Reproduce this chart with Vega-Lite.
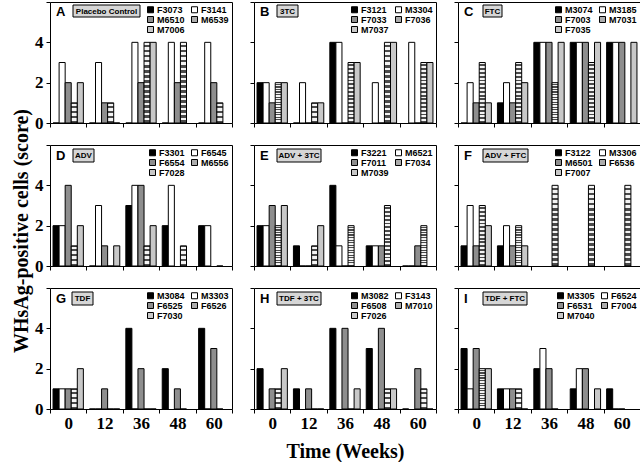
{
"$schema": "https://vega.github.io/schema/vega-lite/v6.json",
"background": "white",
"padding": {"left": 11, "top": 0, "right": 0, "bottom": 0},
"title": {"text": "WHsAg-positive cells (score)", "orient": "left", "anchor": "middle", "font": "Liberation Serif", "fontSize": 20, "fontWeight": "bold", "color": "#000", "offset": 2},
"resolve": {"scale": {"fill": "independent", "xOffset": "independent"}, "legend": {"fill": "independent"}},
"datasets": {
"bars": [
{"p":"A","w":"0","a":"F3073","v":0},{"p":"A","w":"0","a":"F3141","v":3},{"p":"A","w":"0","a":"M6510","v":2},{"p":"A","w":"0","a":"M6539","v":1},{"p":"A","w":"0","a":"M7006","v":2},
{"p":"A","w":"12","a":"F3073","v":0},{"p":"A","w":"12","a":"F3141","v":3},{"p":"A","w":"12","a":"M6510","v":1},{"p":"A","w":"12","a":"M6539","v":1},{"p":"A","w":"12","a":"M7006","v":0},
{"p":"A","w":"36","a":"F3073","v":0},{"p":"A","w":"36","a":"F3141","v":4},{"p":"A","w":"36","a":"M6510","v":2},{"p":"A","w":"36","a":"M6539","v":4},{"p":"A","w":"36","a":"M7006","v":4},
{"p":"A","w":"48","a":"F3073","v":0},{"p":"A","w":"48","a":"F3141","v":4},{"p":"A","w":"48","a":"M6510","v":2},{"p":"A","w":"48","a":"M6539","v":4},
{"p":"A","w":"60","a":"F3073","v":0},{"p":"A","w":"60","a":"F3141","v":4},{"p":"A","w":"60","a":"M6510","v":2},{"p":"A","w":"60","a":"M6539","v":1},
{"p":"B","w":"0","a":"F3121","v":2},{"p":"B","w":"0","a":"M3304","v":2},{"p":"B","w":"0","a":"F7033","v":1},{"p":"B","w":"0","a":"F7036","v":2},{"p":"B","w":"0","a":"M7037","v":2},
{"p":"B","w":"12","a":"F3121","v":0},{"p":"B","w":"12","a":"M3304","v":2},{"p":"B","w":"12","a":"F7033","v":0},{"p":"B","w":"12","a":"F7036","v":1},{"p":"B","w":"12","a":"M7037","v":1},
{"p":"B","w":"36","a":"F3121","v":4},{"p":"B","w":"36","a":"M3304","v":4},{"p":"B","w":"36","a":"F7033","v":0},{"p":"B","w":"36","a":"F7036","v":3},{"p":"B","w":"36","a":"M7037","v":3},
{"p":"B","w":"48","a":"M3304","v":2},{"p":"B","w":"48","a":"F7033","v":0},{"p":"B","w":"48","a":"F7036","v":4},{"p":"B","w":"48","a":"M7037","v":4},
{"p":"B","w":"60","a":"M3304","v":4},{"p":"B","w":"60","a":"F7033","v":0},{"p":"B","w":"60","a":"F7036","v":3},{"p":"B","w":"60","a":"M7037","v":3},
{"p":"C","w":"0","a":"M3074","v":0},{"p":"C","w":"0","a":"M3185","v":2},{"p":"C","w":"0","a":"F7003","v":1},{"p":"C","w":"0","a":"M7031","v":3},{"p":"C","w":"0","a":"F7035","v":1},
{"p":"C","w":"12","a":"M3074","v":1},{"p":"C","w":"12","a":"M3185","v":2},{"p":"C","w":"12","a":"F7003","v":1},{"p":"C","w":"12","a":"M7031","v":3},{"p":"C","w":"12","a":"F7035","v":2},
{"p":"C","w":"36","a":"M3074","v":4},{"p":"C","w":"36","a":"M3185","v":4},{"p":"C","w":"36","a":"F7003","v":4},{"p":"C","w":"36","a":"M7031","v":2},{"p":"C","w":"36","a":"F7035","v":4},
{"p":"C","w":"48","a":"M3074","v":4},{"p":"C","w":"48","a":"M3185","v":4},{"p":"C","w":"48","a":"F7003","v":4},{"p":"C","w":"48","a":"M7031","v":3},{"p":"C","w":"48","a":"F7035","v":4},
{"p":"C","w":"60","a":"M3074","v":4},{"p":"C","w":"60","a":"M3185","v":4},{"p":"C","w":"60","a":"F7003","v":4},{"p":"C","w":"60","a":"F7035","v":4},
{"p":"D","w":"0","a":"F3301","v":2},{"p":"D","w":"0","a":"F6545","v":2},{"p":"D","w":"0","a":"F6554","v":4},{"p":"D","w":"0","a":"M6556","v":1},{"p":"D","w":"0","a":"F7028","v":2},
{"p":"D","w":"12","a":"F3301","v":0},{"p":"D","w":"12","a":"F6545","v":3},{"p":"D","w":"12","a":"F6554","v":1},{"p":"D","w":"12","a":"M6556","v":0},{"p":"D","w":"12","a":"F7028","v":1},
{"p":"D","w":"36","a":"F3301","v":3},{"p":"D","w":"36","a":"F6545","v":4},{"p":"D","w":"36","a":"F6554","v":4},{"p":"D","w":"36","a":"M6556","v":1},{"p":"D","w":"36","a":"F7028","v":2},
{"p":"D","w":"48","a":"F3301","v":2},{"p":"D","w":"48","a":"F6545","v":4},{"p":"D","w":"48","a":"M6556","v":1},
{"p":"D","w":"60","a":"F3301","v":2},{"p":"D","w":"60","a":"F6545","v":2},{"p":"D","w":"60","a":"M6556","v":0},
{"p":"E","w":"0","a":"F3221","v":2},{"p":"E","w":"0","a":"M6521","v":2},{"p":"E","w":"0","a":"F7011","v":3},{"p":"E","w":"0","a":"F7034","v":2},{"p":"E","w":"0","a":"M7039","v":3},
{"p":"E","w":"12","a":"F3221","v":1},{"p":"E","w":"12","a":"M6521","v":0},{"p":"E","w":"12","a":"F7011","v":0},{"p":"E","w":"12","a":"F7034","v":1},{"p":"E","w":"12","a":"M7039","v":2},
{"p":"E","w":"36","a":"F3221","v":4},{"p":"E","w":"36","a":"M6521","v":1},{"p":"E","w":"36","a":"F7011","v":0},{"p":"E","w":"36","a":"F7034","v":2},
{"p":"E","w":"48","a":"F3221","v":1},{"p":"E","w":"48","a":"M6521","v":1},{"p":"E","w":"48","a":"F7011","v":1},{"p":"E","w":"48","a":"F7034","v":3},
{"p":"E","w":"60","a":"F3221","v":0},{"p":"E","w":"60","a":"M6521","v":0},{"p":"E","w":"60","a":"F7011","v":1},{"p":"E","w":"60","a":"F7034","v":2},
{"p":"F","w":"0","a":"F3122","v":1},{"p":"F","w":"0","a":"M3306","v":3},{"p":"F","w":"0","a":"M6501","v":1},{"p":"F","w":"0","a":"F6536","v":3},{"p":"F","w":"0","a":"F7007","v":2},
{"p":"F","w":"12","a":"F3122","v":1},{"p":"F","w":"12","a":"M3306","v":2},{"p":"F","w":"12","a":"M6501","v":1},{"p":"F","w":"12","a":"F6536","v":2},{"p":"F","w":"12","a":"F7007","v":1},
{"p":"F","w":"36","a":"F6536","v":4},{"p":"F","w":"48","a":"F6536","v":4},{"p":"F","w":"60","a":"F6536","v":4},
{"p":"G","w":"0","a":"M3084","v":1},{"p":"G","w":"0","a":"M3303","v":1},{"p":"G","w":"0","a":"F6525","v":1},{"p":"G","w":"0","a":"F6526","v":1},{"p":"G","w":"0","a":"F7030","v":2},
{"p":"G","w":"12","a":"M3084","v":0},{"p":"G","w":"12","a":"M3303","v":0},{"p":"G","w":"12","a":"F6525","v":1},{"p":"G","w":"12","a":"F6526","v":0},{"p":"G","w":"12","a":"F7030","v":0},
{"p":"G","w":"36","a":"M3084","v":4},{"p":"G","w":"36","a":"M3303","v":0},{"p":"G","w":"36","a":"F6525","v":2},{"p":"G","w":"36","a":"F6526","v":0},{"p":"G","w":"36","a":"F7030","v":0},
{"p":"G","w":"48","a":"M3084","v":2},{"p":"G","w":"48","a":"F6525","v":1},{"p":"G","w":"48","a":"F6526","v":0},
{"p":"G","w":"60","a":"M3084","v":4},{"p":"G","w":"60","a":"M3303","v":0},{"p":"G","w":"60","a":"F6525","v":3},{"p":"G","w":"60","a":"F6526","v":0},
{"p":"H","w":"0","a":"M3082","v":2},{"p":"H","w":"0","a":"F6508","v":1},{"p":"H","w":"0","a":"M7010","v":1},{"p":"H","w":"0","a":"F7026","v":2},
{"p":"H","w":"12","a":"M3082","v":1},{"p":"H","w":"12","a":"F6508","v":1},{"p":"H","w":"12","a":"M7010","v":0},{"p":"H","w":"12","a":"F7026","v":0},
{"p":"H","w":"36","a":"M3082","v":4},{"p":"H","w":"36","a":"F6508","v":4},{"p":"H","w":"36","a":"M7010","v":0},{"p":"H","w":"36","a":"F7026","v":1},
{"p":"H","w":"48","a":"M3082","v":3},{"p":"H","w":"48","a":"F6508","v":4},{"p":"H","w":"48","a":"M7010","v":1},{"p":"H","w":"48","a":"F7026","v":1},
{"p":"H","w":"60","a":"M3082","v":0},{"p":"H","w":"60","a":"F6508","v":2},{"p":"H","w":"60","a":"M7010","v":1},{"p":"H","w":"60","a":"F7026","v":0},
{"p":"I","w":"0","a":"M3305","v":3},{"p":"I","w":"0","a":"F6524","v":1},{"p":"I","w":"0","a":"F6531","v":3},{"p":"I","w":"0","a":"F7004","v":2},{"p":"I","w":"0","a":"M7040","v":2},
{"p":"I","w":"12","a":"M3305","v":1},{"p":"I","w":"12","a":"F6524","v":1},{"p":"I","w":"12","a":"F6531","v":1},{"p":"I","w":"12","a":"F7004","v":1},{"p":"I","w":"12","a":"M7040","v":0},
{"p":"I","w":"36","a":"M3305","v":2},{"p":"I","w":"36","a":"F6524","v":3},{"p":"I","w":"36","a":"F6531","v":2},{"p":"I","w":"36","a":"F7004","v":0},
{"p":"I","w":"48","a":"M3305","v":1},{"p":"I","w":"48","a":"F6524","v":2},{"p":"I","w":"48","a":"F6531","v":2},{"p":"I","w":"48","a":"M7040","v":1},
{"p":"I","w":"60","a":"M3305","v":1},{"p":"I","w":"60","a":"F6524","v":0},{"p":"I","w":"60","a":"F6531","v":0}
],
"one": [{}]
},
"config": {
"view": {"stroke": "#000", "strokeWidth": 1},
"range": {"category": ["#000000", "#ffffff", "#8e8e8e", "#acacac", "#c8c8c8"]},
"axis": {"domain": false, "grid": false, "ticks": true, "tickColor": "#000", "tickSize": 4, "labelFont": "Liberation Serif", "labelFontWeight": "bold", "labelFontSize": 17, "labelColor": "#000", "labelOverlap": false, "titleFont": "Liberation Serif", "titleFontWeight": "bold", "titleFontSize": 20, "titleColor": "#000"},
"axisX": {"tickBand": "extent", "labelAngle": 0, "labelPadding": 2, "title": null},
"axisY": {"values": [0,1,2,3,4,5,6], "labelExpr": "datum.value <= 4 ? datum.label : ''", "labelFontSize": {"condition": {"test": "datum.value > 4", "value": 1}, "value": 17}, "labelPadding": 3, "title": null},
"legend": {"orient": "top-right", "direction": "horizontal", "columns": 2, "symbolType": "square", "symbolSize": 36, "symbolStrokeColor": "#000", "symbolStrokeWidth": 1, "symbolOpacity": 1, "labelFont": "Liberation Sans", "labelFontSize": 9, "labelFontWeight": "bold", "labelColor": "#000", "labelOffset": 2, "rowPadding": -1, "columnPadding": 4, "offset": 3, "padding": 0, "title": null}
},
"spacing": 11,
"vconcat": [
{"spacing": 16, "resolve": {"scale": {"fill": "independent", "xOffset": "independent"}, "legend": {"fill": "independent"}}, "hconcat": [
 {"width": 182, "height": 121, "layer": [
  {"data": {"name": "bars"}, "transform": [{"filter": "datum.p==='A'"}], "mark": {"type": "bar", "stroke": "#000", "strokeWidth": 1},
   "encoding": {
    "x": {"field": "w", "type": "ordinal", "sort": ["0","12","36","48","60"], "scale": {"domain": ["0","12","36","48","60"], "paddingInner": 0, "paddingOuter": 0}, "axis": {"labels": false}},
    "xOffset": {"field": "a", "scale": {"domain": ["F3073","F3141","M6510","M6539","M7006"], "paddingInner": 0, "paddingOuter": 0.5}},
    "y": {"field": "v", "type": "quantitative", "scale": {"domain": [0,6], "nice": false}, "axis": {}},
    "fill": {"condition": {"test": "datum.a==='M6539'", "value": {"gradient": "linear", "x1": 0, "y1": 0, "x2": 0, "y2": 1, "stops": [{"offset":0,"color":"#f4f4f4"},{"offset":0.03125,"color":"#f4f4f4"},{"offset":0.03125,"color":"#4a4a4a"},{"offset":0.0625,"color":"#4a4a4a"},{"offset":0.0625,"color":"#f4f4f4"},{"offset":0.09375,"color":"#f4f4f4"},{"offset":0.09375,"color":"#4a4a4a"},{"offset":0.125,"color":"#4a4a4a"},{"offset":0.125,"color":"#f4f4f4"},{"offset":0.15625,"color":"#f4f4f4"},{"offset":0.15625,"color":"#4a4a4a"},{"offset":0.1875,"color":"#4a4a4a"},{"offset":0.1875,"color":"#f4f4f4"},{"offset":0.21875,"color":"#f4f4f4"},{"offset":0.21875,"color":"#4a4a4a"},{"offset":0.25,"color":"#4a4a4a"},{"offset":0.25,"color":"#f4f4f4"},{"offset":0.28125,"color":"#f4f4f4"},{"offset":0.28125,"color":"#4a4a4a"},{"offset":0.3125,"color":"#4a4a4a"},{"offset":0.3125,"color":"#f4f4f4"},{"offset":0.34375,"color":"#f4f4f4"},{"offset":0.34375,"color":"#4a4a4a"},{"offset":0.375,"color":"#4a4a4a"},{"offset":0.375,"color":"#f4f4f4"},{"offset":0.40625,"color":"#f4f4f4"},{"offset":0.40625,"color":"#4a4a4a"},{"offset":0.4375,"color":"#4a4a4a"},{"offset":0.4375,"color":"#f4f4f4"},{"offset":0.46875,"color":"#f4f4f4"},{"offset":0.46875,"color":"#4a4a4a"},{"offset":0.5,"color":"#4a4a4a"},{"offset":0.5,"color":"#f4f4f4"},{"offset":0.53125,"color":"#f4f4f4"},{"offset":0.53125,"color":"#4a4a4a"},{"offset":0.5625,"color":"#4a4a4a"},{"offset":0.5625,"color":"#f4f4f4"},{"offset":0.59375,"color":"#f4f4f4"},{"offset":0.59375,"color":"#4a4a4a"},{"offset":0.625,"color":"#4a4a4a"},{"offset":0.625,"color":"#f4f4f4"},{"offset":0.65625,"color":"#f4f4f4"},{"offset":0.65625,"color":"#4a4a4a"},{"offset":0.6875,"color":"#4a4a4a"},{"offset":0.6875,"color":"#f4f4f4"},{"offset":0.71875,"color":"#f4f4f4"},{"offset":0.71875,"color":"#4a4a4a"},{"offset":0.75,"color":"#4a4a4a"},{"offset":0.75,"color":"#f4f4f4"},{"offset":0.78125,"color":"#f4f4f4"},{"offset":0.78125,"color":"#4a4a4a"},{"offset":0.8125,"color":"#4a4a4a"},{"offset":0.8125,"color":"#f4f4f4"},{"offset":0.84375,"color":"#f4f4f4"},{"offset":0.84375,"color":"#4a4a4a"},{"offset":0.875,"color":"#4a4a4a"},{"offset":0.875,"color":"#f4f4f4"},{"offset":0.90625,"color":"#f4f4f4"},{"offset":0.90625,"color":"#4a4a4a"},{"offset":0.9375,"color":"#4a4a4a"},{"offset":0.9375,"color":"#f4f4f4"},{"offset":0.96875,"color":"#f4f4f4"},{"offset":0.96875,"color":"#4a4a4a"},{"offset":1,"color":"#4a4a4a"}]}},
      "field": "a", "type": "nominal", "scale": {"domain": ["F3073","F3141","M6510","M6539","M7006"]}, "legend": {"title": null}}}},
  {"data": {"name": "one"}, "mark": {"type": "rect", "fill": "#d6d6d6", "stroke": "#000", "strokeWidth": 1}, "encoding": {"x": {"value": 23}, "x2": {"value": 90}, "y": {"value": 3}, "y2": {"value": 15}}},
  {"data": {"name": "one"}, "mark": {"type": "text", "font": "Liberation Sans", "fontWeight": "bold", "fontSize": 8, "align": "center", "baseline": "middle", "color": "#000"}, "encoding": {"x": {"value": 56.5}, "y": {"value": 9.5}, "text": {"value": "Placebo Control"}}},
  {"data": {"name": "one"}, "mark": {"type": "text", "font": "Liberation Sans", "fontWeight": "bold", "fontSize": 13, "align": "left", "baseline": "middle", "color": "#000"}, "encoding": {"x": {"value": 6}, "y": {"value": 9.5}, "text": {"value": "A"}}}
 ]},
 {"width": 182, "height": 121, "layer": [
  {"data": {"name": "bars"}, "transform": [{"filter": "datum.p==='B'"}], "mark": {"type": "bar", "stroke": "#000", "strokeWidth": 1},
   "encoding": {
    "x": {"field": "w", "type": "ordinal", "sort": ["0","12","36","48","60"], "scale": {"domain": ["0","12","36","48","60"], "paddingInner": 0, "paddingOuter": 0}, "axis": {"labels": false}},
    "xOffset": {"field": "a", "scale": {"domain": ["F3121","M3304","F7033","F7036","M7037"], "paddingInner": 0, "paddingOuter": 0.5}},
    "y": {"field": "v", "type": "quantitative", "scale": {"domain": [0,6], "nice": false}, "axis": {"labels": false}},
    "fill": {"condition": {"test": "datum.a==='F7036'", "value": {"gradient": "linear", "x1": 0, "y1": 0, "x2": 0, "y2": 1, "stops": [{"offset":0,"color":"#f4f4f4"},{"offset":0.03125,"color":"#f4f4f4"},{"offset":0.03125,"color":"#4a4a4a"},{"offset":0.0625,"color":"#4a4a4a"},{"offset":0.0625,"color":"#f4f4f4"},{"offset":0.09375,"color":"#f4f4f4"},{"offset":0.09375,"color":"#4a4a4a"},{"offset":0.125,"color":"#4a4a4a"},{"offset":0.125,"color":"#f4f4f4"},{"offset":0.15625,"color":"#f4f4f4"},{"offset":0.15625,"color":"#4a4a4a"},{"offset":0.1875,"color":"#4a4a4a"},{"offset":0.1875,"color":"#f4f4f4"},{"offset":0.21875,"color":"#f4f4f4"},{"offset":0.21875,"color":"#4a4a4a"},{"offset":0.25,"color":"#4a4a4a"},{"offset":0.25,"color":"#f4f4f4"},{"offset":0.28125,"color":"#f4f4f4"},{"offset":0.28125,"color":"#4a4a4a"},{"offset":0.3125,"color":"#4a4a4a"},{"offset":0.3125,"color":"#f4f4f4"},{"offset":0.34375,"color":"#f4f4f4"},{"offset":0.34375,"color":"#4a4a4a"},{"offset":0.375,"color":"#4a4a4a"},{"offset":0.375,"color":"#f4f4f4"},{"offset":0.40625,"color":"#f4f4f4"},{"offset":0.40625,"color":"#4a4a4a"},{"offset":0.4375,"color":"#4a4a4a"},{"offset":0.4375,"color":"#f4f4f4"},{"offset":0.46875,"color":"#f4f4f4"},{"offset":0.46875,"color":"#4a4a4a"},{"offset":0.5,"color":"#4a4a4a"},{"offset":0.5,"color":"#f4f4f4"},{"offset":0.53125,"color":"#f4f4f4"},{"offset":0.53125,"color":"#4a4a4a"},{"offset":0.5625,"color":"#4a4a4a"},{"offset":0.5625,"color":"#f4f4f4"},{"offset":0.59375,"color":"#f4f4f4"},{"offset":0.59375,"color":"#4a4a4a"},{"offset":0.625,"color":"#4a4a4a"},{"offset":0.625,"color":"#f4f4f4"},{"offset":0.65625,"color":"#f4f4f4"},{"offset":0.65625,"color":"#4a4a4a"},{"offset":0.6875,"color":"#4a4a4a"},{"offset":0.6875,"color":"#f4f4f4"},{"offset":0.71875,"color":"#f4f4f4"},{"offset":0.71875,"color":"#4a4a4a"},{"offset":0.75,"color":"#4a4a4a"},{"offset":0.75,"color":"#f4f4f4"},{"offset":0.78125,"color":"#f4f4f4"},{"offset":0.78125,"color":"#4a4a4a"},{"offset":0.8125,"color":"#4a4a4a"},{"offset":0.8125,"color":"#f4f4f4"},{"offset":0.84375,"color":"#f4f4f4"},{"offset":0.84375,"color":"#4a4a4a"},{"offset":0.875,"color":"#4a4a4a"},{"offset":0.875,"color":"#f4f4f4"},{"offset":0.90625,"color":"#f4f4f4"},{"offset":0.90625,"color":"#4a4a4a"},{"offset":0.9375,"color":"#4a4a4a"},{"offset":0.9375,"color":"#f4f4f4"},{"offset":0.96875,"color":"#f4f4f4"},{"offset":0.96875,"color":"#4a4a4a"},{"offset":1,"color":"#4a4a4a"}]}},
      "field": "a", "type": "nominal", "scale": {"domain": ["F3121","M3304","F7033","F7036","M7037"]}, "legend": {"title": null}}}},
  {"data": {"name": "one"}, "mark": {"type": "rect", "fill": "#d6d6d6", "stroke": "#000", "strokeWidth": 1}, "encoding": {"x": {"value": 23}, "x2": {"value": 44}, "y": {"value": 3}, "y2": {"value": 15}}},
  {"data": {"name": "one"}, "mark": {"type": "text", "font": "Liberation Sans", "fontWeight": "bold", "fontSize": 8, "align": "center", "baseline": "middle", "color": "#000"}, "encoding": {"x": {"value": 33.5}, "y": {"value": 9.5}, "text": {"value": "3TC"}}},
  {"data": {"name": "one"}, "mark": {"type": "text", "font": "Liberation Sans", "fontWeight": "bold", "fontSize": 13, "align": "left", "baseline": "middle", "color": "#000"}, "encoding": {"x": {"value": 6}, "y": {"value": 9.5}, "text": {"value": "B"}}}
 ]},
 {"width": 182, "height": 121, "layer": [
  {"data": {"name": "bars"}, "transform": [{"filter": "datum.p==='C'"}], "mark": {"type": "bar", "stroke": "#000", "strokeWidth": 1},
   "encoding": {
    "x": {"field": "w", "type": "ordinal", "sort": ["0","12","36","48","60"], "scale": {"domain": ["0","12","36","48","60"], "paddingInner": 0, "paddingOuter": 0}, "axis": {"labels": false}},
    "xOffset": {"field": "a", "scale": {"domain": ["M3074","M3185","F7003","M7031","F7035"], "paddingInner": 0, "paddingOuter": 0.5}},
    "y": {"field": "v", "type": "quantitative", "scale": {"domain": [0,6], "nice": false}, "axis": {"labels": false}},
    "fill": {"condition": {"test": "datum.a==='M7031'", "value": {"gradient": "linear", "x1": 0, "y1": 0, "x2": 0, "y2": 1, "stops": [{"offset":0,"color":"#f4f4f4"},{"offset":0.03125,"color":"#f4f4f4"},{"offset":0.03125,"color":"#4a4a4a"},{"offset":0.0625,"color":"#4a4a4a"},{"offset":0.0625,"color":"#f4f4f4"},{"offset":0.09375,"color":"#f4f4f4"},{"offset":0.09375,"color":"#4a4a4a"},{"offset":0.125,"color":"#4a4a4a"},{"offset":0.125,"color":"#f4f4f4"},{"offset":0.15625,"color":"#f4f4f4"},{"offset":0.15625,"color":"#4a4a4a"},{"offset":0.1875,"color":"#4a4a4a"},{"offset":0.1875,"color":"#f4f4f4"},{"offset":0.21875,"color":"#f4f4f4"},{"offset":0.21875,"color":"#4a4a4a"},{"offset":0.25,"color":"#4a4a4a"},{"offset":0.25,"color":"#f4f4f4"},{"offset":0.28125,"color":"#f4f4f4"},{"offset":0.28125,"color":"#4a4a4a"},{"offset":0.3125,"color":"#4a4a4a"},{"offset":0.3125,"color":"#f4f4f4"},{"offset":0.34375,"color":"#f4f4f4"},{"offset":0.34375,"color":"#4a4a4a"},{"offset":0.375,"color":"#4a4a4a"},{"offset":0.375,"color":"#f4f4f4"},{"offset":0.40625,"color":"#f4f4f4"},{"offset":0.40625,"color":"#4a4a4a"},{"offset":0.4375,"color":"#4a4a4a"},{"offset":0.4375,"color":"#f4f4f4"},{"offset":0.46875,"color":"#f4f4f4"},{"offset":0.46875,"color":"#4a4a4a"},{"offset":0.5,"color":"#4a4a4a"},{"offset":0.5,"color":"#f4f4f4"},{"offset":0.53125,"color":"#f4f4f4"},{"offset":0.53125,"color":"#4a4a4a"},{"offset":0.5625,"color":"#4a4a4a"},{"offset":0.5625,"color":"#f4f4f4"},{"offset":0.59375,"color":"#f4f4f4"},{"offset":0.59375,"color":"#4a4a4a"},{"offset":0.625,"color":"#4a4a4a"},{"offset":0.625,"color":"#f4f4f4"},{"offset":0.65625,"color":"#f4f4f4"},{"offset":0.65625,"color":"#4a4a4a"},{"offset":0.6875,"color":"#4a4a4a"},{"offset":0.6875,"color":"#f4f4f4"},{"offset":0.71875,"color":"#f4f4f4"},{"offset":0.71875,"color":"#4a4a4a"},{"offset":0.75,"color":"#4a4a4a"},{"offset":0.75,"color":"#f4f4f4"},{"offset":0.78125,"color":"#f4f4f4"},{"offset":0.78125,"color":"#4a4a4a"},{"offset":0.8125,"color":"#4a4a4a"},{"offset":0.8125,"color":"#f4f4f4"},{"offset":0.84375,"color":"#f4f4f4"},{"offset":0.84375,"color":"#4a4a4a"},{"offset":0.875,"color":"#4a4a4a"},{"offset":0.875,"color":"#f4f4f4"},{"offset":0.90625,"color":"#f4f4f4"},{"offset":0.90625,"color":"#4a4a4a"},{"offset":0.9375,"color":"#4a4a4a"},{"offset":0.9375,"color":"#f4f4f4"},{"offset":0.96875,"color":"#f4f4f4"},{"offset":0.96875,"color":"#4a4a4a"},{"offset":1,"color":"#4a4a4a"}]}},
      "field": "a", "type": "nominal", "scale": {"domain": ["M3074","M3185","F7003","M7031","F7035"]}, "legend": {"title": null}}}},
  {"data": {"name": "one"}, "mark": {"type": "rect", "fill": "#d6d6d6", "stroke": "#000", "strokeWidth": 1}, "encoding": {"x": {"value": 25}, "x2": {"value": 44}, "y": {"value": 3}, "y2": {"value": 15}}},
  {"data": {"name": "one"}, "mark": {"type": "text", "font": "Liberation Sans", "fontWeight": "bold", "fontSize": 8, "align": "center", "baseline": "middle", "color": "#000"}, "encoding": {"x": {"value": 34.5}, "y": {"value": 9.5}, "text": {"value": "FTC"}}},
  {"data": {"name": "one"}, "mark": {"type": "text", "font": "Liberation Sans", "fontWeight": "bold", "fontSize": 13, "align": "left", "baseline": "middle", "color": "#000"}, "encoding": {"x": {"value": 6}, "y": {"value": 9.5}, "text": {"value": "C"}}}
 ]}
]},
{"spacing": 16, "resolve": {"scale": {"fill": "independent", "xOffset": "independent"}, "legend": {"fill": "independent"}}, "hconcat": [
 {"width": 182, "height": 121, "layer": [
  {"data": {"name": "bars"}, "transform": [{"filter": "datum.p==='D'"}], "mark": {"type": "bar", "stroke": "#000", "strokeWidth": 1},
   "encoding": {
    "x": {"field": "w", "type": "ordinal", "sort": ["0","12","36","48","60"], "scale": {"domain": ["0","12","36","48","60"], "paddingInner": 0, "paddingOuter": 0}, "axis": {"labels": false}},
    "xOffset": {"field": "a", "scale": {"domain": ["F3301","F6545","F6554","M6556","F7028"], "paddingInner": 0, "paddingOuter": 0.5}},
    "y": {"field": "v", "type": "quantitative", "scale": {"domain": [0,6], "nice": false}, "axis": {}},
    "fill": {"condition": {"test": "datum.a==='M6556'", "value": {"gradient": "linear", "x1": 0, "y1": 0, "x2": 0, "y2": 1, "stops": [{"offset":0,"color":"#f4f4f4"},{"offset":0.03125,"color":"#f4f4f4"},{"offset":0.03125,"color":"#4a4a4a"},{"offset":0.0625,"color":"#4a4a4a"},{"offset":0.0625,"color":"#f4f4f4"},{"offset":0.09375,"color":"#f4f4f4"},{"offset":0.09375,"color":"#4a4a4a"},{"offset":0.125,"color":"#4a4a4a"},{"offset":0.125,"color":"#f4f4f4"},{"offset":0.15625,"color":"#f4f4f4"},{"offset":0.15625,"color":"#4a4a4a"},{"offset":0.1875,"color":"#4a4a4a"},{"offset":0.1875,"color":"#f4f4f4"},{"offset":0.21875,"color":"#f4f4f4"},{"offset":0.21875,"color":"#4a4a4a"},{"offset":0.25,"color":"#4a4a4a"},{"offset":0.25,"color":"#f4f4f4"},{"offset":0.28125,"color":"#f4f4f4"},{"offset":0.28125,"color":"#4a4a4a"},{"offset":0.3125,"color":"#4a4a4a"},{"offset":0.3125,"color":"#f4f4f4"},{"offset":0.34375,"color":"#f4f4f4"},{"offset":0.34375,"color":"#4a4a4a"},{"offset":0.375,"color":"#4a4a4a"},{"offset":0.375,"color":"#f4f4f4"},{"offset":0.40625,"color":"#f4f4f4"},{"offset":0.40625,"color":"#4a4a4a"},{"offset":0.4375,"color":"#4a4a4a"},{"offset":0.4375,"color":"#f4f4f4"},{"offset":0.46875,"color":"#f4f4f4"},{"offset":0.46875,"color":"#4a4a4a"},{"offset":0.5,"color":"#4a4a4a"},{"offset":0.5,"color":"#f4f4f4"},{"offset":0.53125,"color":"#f4f4f4"},{"offset":0.53125,"color":"#4a4a4a"},{"offset":0.5625,"color":"#4a4a4a"},{"offset":0.5625,"color":"#f4f4f4"},{"offset":0.59375,"color":"#f4f4f4"},{"offset":0.59375,"color":"#4a4a4a"},{"offset":0.625,"color":"#4a4a4a"},{"offset":0.625,"color":"#f4f4f4"},{"offset":0.65625,"color":"#f4f4f4"},{"offset":0.65625,"color":"#4a4a4a"},{"offset":0.6875,"color":"#4a4a4a"},{"offset":0.6875,"color":"#f4f4f4"},{"offset":0.71875,"color":"#f4f4f4"},{"offset":0.71875,"color":"#4a4a4a"},{"offset":0.75,"color":"#4a4a4a"},{"offset":0.75,"color":"#f4f4f4"},{"offset":0.78125,"color":"#f4f4f4"},{"offset":0.78125,"color":"#4a4a4a"},{"offset":0.8125,"color":"#4a4a4a"},{"offset":0.8125,"color":"#f4f4f4"},{"offset":0.84375,"color":"#f4f4f4"},{"offset":0.84375,"color":"#4a4a4a"},{"offset":0.875,"color":"#4a4a4a"},{"offset":0.875,"color":"#f4f4f4"},{"offset":0.90625,"color":"#f4f4f4"},{"offset":0.90625,"color":"#4a4a4a"},{"offset":0.9375,"color":"#4a4a4a"},{"offset":0.9375,"color":"#f4f4f4"},{"offset":0.96875,"color":"#f4f4f4"},{"offset":0.96875,"color":"#4a4a4a"},{"offset":1,"color":"#4a4a4a"}]}},
      "field": "a", "type": "nominal", "scale": {"domain": ["F3301","F6545","F6554","M6556","F7028"]}, "legend": {"title": null}}}},
  {"data": {"name": "one"}, "mark": {"type": "rect", "fill": "#d6d6d6", "stroke": "#000", "strokeWidth": 1}, "encoding": {"x": {"value": 23}, "x2": {"value": 44}, "y": {"value": 4}, "y2": {"value": 17}}},
  {"data": {"name": "one"}, "mark": {"type": "text", "font": "Liberation Sans", "fontWeight": "bold", "fontSize": 8, "align": "center", "baseline": "middle", "color": "#000"}, "encoding": {"x": {"value": 33.5}, "y": {"value": 10.5}, "text": {"value": "ADV"}}},
  {"data": {"name": "one"}, "mark": {"type": "text", "font": "Liberation Sans", "fontWeight": "bold", "fontSize": 13, "align": "left", "baseline": "middle", "color": "#000"}, "encoding": {"x": {"value": 6}, "y": {"value": 10.5}, "text": {"value": "D"}}}
 ]},
 {"width": 182, "height": 121, "layer": [
  {"data": {"name": "bars"}, "transform": [{"filter": "datum.p==='E'"}], "mark": {"type": "bar", "stroke": "#000", "strokeWidth": 1},
   "encoding": {
    "x": {"field": "w", "type": "ordinal", "sort": ["0","12","36","48","60"], "scale": {"domain": ["0","12","36","48","60"], "paddingInner": 0, "paddingOuter": 0}, "axis": {"labels": false}},
    "xOffset": {"field": "a", "scale": {"domain": ["F3221","M6521","F7011","F7034","M7039"], "paddingInner": 0, "paddingOuter": 0.5}},
    "y": {"field": "v", "type": "quantitative", "scale": {"domain": [0,6], "nice": false}, "axis": {"labels": false}},
    "fill": {"condition": {"test": "datum.a==='F7034'", "value": {"gradient": "linear", "x1": 0, "y1": 0, "x2": 0, "y2": 1, "stops": [{"offset":0,"color":"#f4f4f4"},{"offset":0.03125,"color":"#f4f4f4"},{"offset":0.03125,"color":"#4a4a4a"},{"offset":0.0625,"color":"#4a4a4a"},{"offset":0.0625,"color":"#f4f4f4"},{"offset":0.09375,"color":"#f4f4f4"},{"offset":0.09375,"color":"#4a4a4a"},{"offset":0.125,"color":"#4a4a4a"},{"offset":0.125,"color":"#f4f4f4"},{"offset":0.15625,"color":"#f4f4f4"},{"offset":0.15625,"color":"#4a4a4a"},{"offset":0.1875,"color":"#4a4a4a"},{"offset":0.1875,"color":"#f4f4f4"},{"offset":0.21875,"color":"#f4f4f4"},{"offset":0.21875,"color":"#4a4a4a"},{"offset":0.25,"color":"#4a4a4a"},{"offset":0.25,"color":"#f4f4f4"},{"offset":0.28125,"color":"#f4f4f4"},{"offset":0.28125,"color":"#4a4a4a"},{"offset":0.3125,"color":"#4a4a4a"},{"offset":0.3125,"color":"#f4f4f4"},{"offset":0.34375,"color":"#f4f4f4"},{"offset":0.34375,"color":"#4a4a4a"},{"offset":0.375,"color":"#4a4a4a"},{"offset":0.375,"color":"#f4f4f4"},{"offset":0.40625,"color":"#f4f4f4"},{"offset":0.40625,"color":"#4a4a4a"},{"offset":0.4375,"color":"#4a4a4a"},{"offset":0.4375,"color":"#f4f4f4"},{"offset":0.46875,"color":"#f4f4f4"},{"offset":0.46875,"color":"#4a4a4a"},{"offset":0.5,"color":"#4a4a4a"},{"offset":0.5,"color":"#f4f4f4"},{"offset":0.53125,"color":"#f4f4f4"},{"offset":0.53125,"color":"#4a4a4a"},{"offset":0.5625,"color":"#4a4a4a"},{"offset":0.5625,"color":"#f4f4f4"},{"offset":0.59375,"color":"#f4f4f4"},{"offset":0.59375,"color":"#4a4a4a"},{"offset":0.625,"color":"#4a4a4a"},{"offset":0.625,"color":"#f4f4f4"},{"offset":0.65625,"color":"#f4f4f4"},{"offset":0.65625,"color":"#4a4a4a"},{"offset":0.6875,"color":"#4a4a4a"},{"offset":0.6875,"color":"#f4f4f4"},{"offset":0.71875,"color":"#f4f4f4"},{"offset":0.71875,"color":"#4a4a4a"},{"offset":0.75,"color":"#4a4a4a"},{"offset":0.75,"color":"#f4f4f4"},{"offset":0.78125,"color":"#f4f4f4"},{"offset":0.78125,"color":"#4a4a4a"},{"offset":0.8125,"color":"#4a4a4a"},{"offset":0.8125,"color":"#f4f4f4"},{"offset":0.84375,"color":"#f4f4f4"},{"offset":0.84375,"color":"#4a4a4a"},{"offset":0.875,"color":"#4a4a4a"},{"offset":0.875,"color":"#f4f4f4"},{"offset":0.90625,"color":"#f4f4f4"},{"offset":0.90625,"color":"#4a4a4a"},{"offset":0.9375,"color":"#4a4a4a"},{"offset":0.9375,"color":"#f4f4f4"},{"offset":0.96875,"color":"#f4f4f4"},{"offset":0.96875,"color":"#4a4a4a"},{"offset":1,"color":"#4a4a4a"}]}},
      "field": "a", "type": "nominal", "scale": {"domain": ["F3221","M6521","F7011","F7034","M7039"]}, "legend": {"title": null}}}},
  {"data": {"name": "one"}, "mark": {"type": "rect", "fill": "#d6d6d6", "stroke": "#000", "strokeWidth": 1}, "encoding": {"x": {"value": 23}, "x2": {"value": 67}, "y": {"value": 4}, "y2": {"value": 17}}},
  {"data": {"name": "one"}, "mark": {"type": "text", "font": "Liberation Sans", "fontWeight": "bold", "fontSize": 8, "align": "center", "baseline": "middle", "color": "#000"}, "encoding": {"x": {"value": 45}, "y": {"value": 10.5}, "text": {"value": "ADV + 3TC"}}},
  {"data": {"name": "one"}, "mark": {"type": "text", "font": "Liberation Sans", "fontWeight": "bold", "fontSize": 13, "align": "left", "baseline": "middle", "color": "#000"}, "encoding": {"x": {"value": 6}, "y": {"value": 10.5}, "text": {"value": "E"}}}
 ]},
 {"width": 182, "height": 121, "layer": [
  {"data": {"name": "bars"}, "transform": [{"filter": "datum.p==='F'"}], "mark": {"type": "bar", "stroke": "#000", "strokeWidth": 1},
   "encoding": {
    "x": {"field": "w", "type": "ordinal", "sort": ["0","12","36","48","60"], "scale": {"domain": ["0","12","36","48","60"], "paddingInner": 0, "paddingOuter": 0}, "axis": {"labels": false}},
    "xOffset": {"field": "a", "scale": {"domain": ["F3122","M3306","M6501","F6536","F7007"], "paddingInner": 0, "paddingOuter": 0.5}},
    "y": {"field": "v", "type": "quantitative", "scale": {"domain": [0,6], "nice": false}, "axis": {"labels": false}},
    "fill": {"condition": {"test": "datum.a==='F6536'", "value": {"gradient": "linear", "x1": 0, "y1": 0, "x2": 0, "y2": 1, "stops": [{"offset":0,"color":"#f4f4f4"},{"offset":0.03125,"color":"#f4f4f4"},{"offset":0.03125,"color":"#4a4a4a"},{"offset":0.0625,"color":"#4a4a4a"},{"offset":0.0625,"color":"#f4f4f4"},{"offset":0.09375,"color":"#f4f4f4"},{"offset":0.09375,"color":"#4a4a4a"},{"offset":0.125,"color":"#4a4a4a"},{"offset":0.125,"color":"#f4f4f4"},{"offset":0.15625,"color":"#f4f4f4"},{"offset":0.15625,"color":"#4a4a4a"},{"offset":0.1875,"color":"#4a4a4a"},{"offset":0.1875,"color":"#f4f4f4"},{"offset":0.21875,"color":"#f4f4f4"},{"offset":0.21875,"color":"#4a4a4a"},{"offset":0.25,"color":"#4a4a4a"},{"offset":0.25,"color":"#f4f4f4"},{"offset":0.28125,"color":"#f4f4f4"},{"offset":0.28125,"color":"#4a4a4a"},{"offset":0.3125,"color":"#4a4a4a"},{"offset":0.3125,"color":"#f4f4f4"},{"offset":0.34375,"color":"#f4f4f4"},{"offset":0.34375,"color":"#4a4a4a"},{"offset":0.375,"color":"#4a4a4a"},{"offset":0.375,"color":"#f4f4f4"},{"offset":0.40625,"color":"#f4f4f4"},{"offset":0.40625,"color":"#4a4a4a"},{"offset":0.4375,"color":"#4a4a4a"},{"offset":0.4375,"color":"#f4f4f4"},{"offset":0.46875,"color":"#f4f4f4"},{"offset":0.46875,"color":"#4a4a4a"},{"offset":0.5,"color":"#4a4a4a"},{"offset":0.5,"color":"#f4f4f4"},{"offset":0.53125,"color":"#f4f4f4"},{"offset":0.53125,"color":"#4a4a4a"},{"offset":0.5625,"color":"#4a4a4a"},{"offset":0.5625,"color":"#f4f4f4"},{"offset":0.59375,"color":"#f4f4f4"},{"offset":0.59375,"color":"#4a4a4a"},{"offset":0.625,"color":"#4a4a4a"},{"offset":0.625,"color":"#f4f4f4"},{"offset":0.65625,"color":"#f4f4f4"},{"offset":0.65625,"color":"#4a4a4a"},{"offset":0.6875,"color":"#4a4a4a"},{"offset":0.6875,"color":"#f4f4f4"},{"offset":0.71875,"color":"#f4f4f4"},{"offset":0.71875,"color":"#4a4a4a"},{"offset":0.75,"color":"#4a4a4a"},{"offset":0.75,"color":"#f4f4f4"},{"offset":0.78125,"color":"#f4f4f4"},{"offset":0.78125,"color":"#4a4a4a"},{"offset":0.8125,"color":"#4a4a4a"},{"offset":0.8125,"color":"#f4f4f4"},{"offset":0.84375,"color":"#f4f4f4"},{"offset":0.84375,"color":"#4a4a4a"},{"offset":0.875,"color":"#4a4a4a"},{"offset":0.875,"color":"#f4f4f4"},{"offset":0.90625,"color":"#f4f4f4"},{"offset":0.90625,"color":"#4a4a4a"},{"offset":0.9375,"color":"#4a4a4a"},{"offset":0.9375,"color":"#f4f4f4"},{"offset":0.96875,"color":"#f4f4f4"},{"offset":0.96875,"color":"#4a4a4a"},{"offset":1,"color":"#4a4a4a"}]}},
      "field": "a", "type": "nominal", "scale": {"domain": ["F3122","M3306","M6501","F6536","F7007"]}, "legend": {"title": null}}}},
  {"data": {"name": "one"}, "mark": {"type": "rect", "fill": "#d6d6d6", "stroke": "#000", "strokeWidth": 1}, "encoding": {"x": {"value": 25}, "x2": {"value": 70}, "y": {"value": 4}, "y2": {"value": 17}}},
  {"data": {"name": "one"}, "mark": {"type": "text", "font": "Liberation Sans", "fontWeight": "bold", "fontSize": 8, "align": "center", "baseline": "middle", "color": "#000"}, "encoding": {"x": {"value": 47.5}, "y": {"value": 10.5}, "text": {"value": "ADV + FTC"}}},
  {"data": {"name": "one"}, "mark": {"type": "text", "font": "Liberation Sans", "fontWeight": "bold", "fontSize": 13, "align": "left", "baseline": "middle", "color": "#000"}, "encoding": {"x": {"value": 6}, "y": {"value": 10.5}, "text": {"value": "F"}}}
 ]}
]},
{"spacing": 16, "resolve": {"scale": {"fill": "independent", "xOffset": "independent"}, "legend": {"fill": "independent"}}, "hconcat": [
 {"width": 182, "height": 121, "layer": [
  {"data": {"name": "bars"}, "transform": [{"filter": "datum.p==='G'"}], "mark": {"type": "bar", "stroke": "#000", "strokeWidth": 1},
   "encoding": {
    "x": {"field": "w", "type": "ordinal", "sort": ["0","12","36","48","60"], "scale": {"domain": ["0","12","36","48","60"], "paddingInner": 0, "paddingOuter": 0}, "axis": {}},
    "xOffset": {"field": "a", "scale": {"domain": ["M3084","M3303","F6525","F6526","F7030"], "paddingInner": 0, "paddingOuter": 0.5}},
    "y": {"field": "v", "type": "quantitative", "scale": {"domain": [0,6], "nice": false}, "axis": {}},
    "fill": {"condition": {"test": "datum.a==='F6526'", "value": {"gradient": "linear", "x1": 0, "y1": 0, "x2": 0, "y2": 1, "stops": [{"offset":0,"color":"#f4f4f4"},{"offset":0.03125,"color":"#f4f4f4"},{"offset":0.03125,"color":"#4a4a4a"},{"offset":0.0625,"color":"#4a4a4a"},{"offset":0.0625,"color":"#f4f4f4"},{"offset":0.09375,"color":"#f4f4f4"},{"offset":0.09375,"color":"#4a4a4a"},{"offset":0.125,"color":"#4a4a4a"},{"offset":0.125,"color":"#f4f4f4"},{"offset":0.15625,"color":"#f4f4f4"},{"offset":0.15625,"color":"#4a4a4a"},{"offset":0.1875,"color":"#4a4a4a"},{"offset":0.1875,"color":"#f4f4f4"},{"offset":0.21875,"color":"#f4f4f4"},{"offset":0.21875,"color":"#4a4a4a"},{"offset":0.25,"color":"#4a4a4a"},{"offset":0.25,"color":"#f4f4f4"},{"offset":0.28125,"color":"#f4f4f4"},{"offset":0.28125,"color":"#4a4a4a"},{"offset":0.3125,"color":"#4a4a4a"},{"offset":0.3125,"color":"#f4f4f4"},{"offset":0.34375,"color":"#f4f4f4"},{"offset":0.34375,"color":"#4a4a4a"},{"offset":0.375,"color":"#4a4a4a"},{"offset":0.375,"color":"#f4f4f4"},{"offset":0.40625,"color":"#f4f4f4"},{"offset":0.40625,"color":"#4a4a4a"},{"offset":0.4375,"color":"#4a4a4a"},{"offset":0.4375,"color":"#f4f4f4"},{"offset":0.46875,"color":"#f4f4f4"},{"offset":0.46875,"color":"#4a4a4a"},{"offset":0.5,"color":"#4a4a4a"},{"offset":0.5,"color":"#f4f4f4"},{"offset":0.53125,"color":"#f4f4f4"},{"offset":0.53125,"color":"#4a4a4a"},{"offset":0.5625,"color":"#4a4a4a"},{"offset":0.5625,"color":"#f4f4f4"},{"offset":0.59375,"color":"#f4f4f4"},{"offset":0.59375,"color":"#4a4a4a"},{"offset":0.625,"color":"#4a4a4a"},{"offset":0.625,"color":"#f4f4f4"},{"offset":0.65625,"color":"#f4f4f4"},{"offset":0.65625,"color":"#4a4a4a"},{"offset":0.6875,"color":"#4a4a4a"},{"offset":0.6875,"color":"#f4f4f4"},{"offset":0.71875,"color":"#f4f4f4"},{"offset":0.71875,"color":"#4a4a4a"},{"offset":0.75,"color":"#4a4a4a"},{"offset":0.75,"color":"#f4f4f4"},{"offset":0.78125,"color":"#f4f4f4"},{"offset":0.78125,"color":"#4a4a4a"},{"offset":0.8125,"color":"#4a4a4a"},{"offset":0.8125,"color":"#f4f4f4"},{"offset":0.84375,"color":"#f4f4f4"},{"offset":0.84375,"color":"#4a4a4a"},{"offset":0.875,"color":"#4a4a4a"},{"offset":0.875,"color":"#f4f4f4"},{"offset":0.90625,"color":"#f4f4f4"},{"offset":0.90625,"color":"#4a4a4a"},{"offset":0.9375,"color":"#4a4a4a"},{"offset":0.9375,"color":"#f4f4f4"},{"offset":0.96875,"color":"#f4f4f4"},{"offset":0.96875,"color":"#4a4a4a"},{"offset":1,"color":"#4a4a4a"}]}},
      "field": "a", "type": "nominal", "scale": {"domain": ["M3084","M3303","F6525","F6526","F7030"]}, "legend": {"title": null}}}},
  {"data": {"name": "one"}, "mark": {"type": "rect", "fill": "#d6d6d6", "stroke": "#000", "strokeWidth": 1}, "encoding": {"x": {"value": 22}, "x2": {"value": 43}, "y": {"value": 4}, "y2": {"value": 17}}},
  {"data": {"name": "one"}, "mark": {"type": "text", "font": "Liberation Sans", "fontWeight": "bold", "fontSize": 8, "align": "center", "baseline": "middle", "color": "#000"}, "encoding": {"x": {"value": 32.5}, "y": {"value": 10.5}, "text": {"value": "TDF"}}},
  {"data": {"name": "one"}, "mark": {"type": "text", "font": "Liberation Sans", "fontWeight": "bold", "fontSize": 13, "align": "left", "baseline": "middle", "color": "#000"}, "encoding": {"x": {"value": 6}, "y": {"value": 10.5}, "text": {"value": "G"}}}
 ]},
 {"width": 182, "height": 121, "layer": [
  {"data": {"name": "bars"}, "transform": [{"filter": "datum.p==='H'"}], "mark": {"type": "bar", "stroke": "#000", "strokeWidth": 1},
   "encoding": {
    "x": {"field": "w", "type": "ordinal", "sort": ["0","12","36","48","60"], "scale": {"domain": ["0","12","36","48","60"], "paddingInner": 0, "paddingOuter": 0}, "axis": {"title": "Time (Weeks)", "titlePadding": 10}},
    "xOffset": {"field": "a", "scale": {"domain": ["M3082","F3143","F6508","M7010","F7026"], "paddingInner": 0, "paddingOuter": 0.5}},
    "y": {"field": "v", "type": "quantitative", "scale": {"domain": [0,6], "nice": false}, "axis": {"labels": false}},
    "fill": {"condition": {"test": "datum.a==='M7010'", "value": {"gradient": "linear", "x1": 0, "y1": 0, "x2": 0, "y2": 1, "stops": [{"offset":0,"color":"#f4f4f4"},{"offset":0.03125,"color":"#f4f4f4"},{"offset":0.03125,"color":"#4a4a4a"},{"offset":0.0625,"color":"#4a4a4a"},{"offset":0.0625,"color":"#f4f4f4"},{"offset":0.09375,"color":"#f4f4f4"},{"offset":0.09375,"color":"#4a4a4a"},{"offset":0.125,"color":"#4a4a4a"},{"offset":0.125,"color":"#f4f4f4"},{"offset":0.15625,"color":"#f4f4f4"},{"offset":0.15625,"color":"#4a4a4a"},{"offset":0.1875,"color":"#4a4a4a"},{"offset":0.1875,"color":"#f4f4f4"},{"offset":0.21875,"color":"#f4f4f4"},{"offset":0.21875,"color":"#4a4a4a"},{"offset":0.25,"color":"#4a4a4a"},{"offset":0.25,"color":"#f4f4f4"},{"offset":0.28125,"color":"#f4f4f4"},{"offset":0.28125,"color":"#4a4a4a"},{"offset":0.3125,"color":"#4a4a4a"},{"offset":0.3125,"color":"#f4f4f4"},{"offset":0.34375,"color":"#f4f4f4"},{"offset":0.34375,"color":"#4a4a4a"},{"offset":0.375,"color":"#4a4a4a"},{"offset":0.375,"color":"#f4f4f4"},{"offset":0.40625,"color":"#f4f4f4"},{"offset":0.40625,"color":"#4a4a4a"},{"offset":0.4375,"color":"#4a4a4a"},{"offset":0.4375,"color":"#f4f4f4"},{"offset":0.46875,"color":"#f4f4f4"},{"offset":0.46875,"color":"#4a4a4a"},{"offset":0.5,"color":"#4a4a4a"},{"offset":0.5,"color":"#f4f4f4"},{"offset":0.53125,"color":"#f4f4f4"},{"offset":0.53125,"color":"#4a4a4a"},{"offset":0.5625,"color":"#4a4a4a"},{"offset":0.5625,"color":"#f4f4f4"},{"offset":0.59375,"color":"#f4f4f4"},{"offset":0.59375,"color":"#4a4a4a"},{"offset":0.625,"color":"#4a4a4a"},{"offset":0.625,"color":"#f4f4f4"},{"offset":0.65625,"color":"#f4f4f4"},{"offset":0.65625,"color":"#4a4a4a"},{"offset":0.6875,"color":"#4a4a4a"},{"offset":0.6875,"color":"#f4f4f4"},{"offset":0.71875,"color":"#f4f4f4"},{"offset":0.71875,"color":"#4a4a4a"},{"offset":0.75,"color":"#4a4a4a"},{"offset":0.75,"color":"#f4f4f4"},{"offset":0.78125,"color":"#f4f4f4"},{"offset":0.78125,"color":"#4a4a4a"},{"offset":0.8125,"color":"#4a4a4a"},{"offset":0.8125,"color":"#f4f4f4"},{"offset":0.84375,"color":"#f4f4f4"},{"offset":0.84375,"color":"#4a4a4a"},{"offset":0.875,"color":"#4a4a4a"},{"offset":0.875,"color":"#f4f4f4"},{"offset":0.90625,"color":"#f4f4f4"},{"offset":0.90625,"color":"#4a4a4a"},{"offset":0.9375,"color":"#4a4a4a"},{"offset":0.9375,"color":"#f4f4f4"},{"offset":0.96875,"color":"#f4f4f4"},{"offset":0.96875,"color":"#4a4a4a"},{"offset":1,"color":"#4a4a4a"}]}},
      "field": "a", "type": "nominal", "scale": {"domain": ["M3082","F3143","F6508","M7010","F7026"]}, "legend": {"title": null}}}},
  {"data": {"name": "one"}, "mark": {"type": "rect", "fill": "#d6d6d6", "stroke": "#000", "strokeWidth": 1}, "encoding": {"x": {"value": 23}, "x2": {"value": 67}, "y": {"value": 4}, "y2": {"value": 17}}},
  {"data": {"name": "one"}, "mark": {"type": "text", "font": "Liberation Sans", "fontWeight": "bold", "fontSize": 8, "align": "center", "baseline": "middle", "color": "#000"}, "encoding": {"x": {"value": 45}, "y": {"value": 10.5}, "text": {"value": "TDF + 3TC"}}},
  {"data": {"name": "one"}, "mark": {"type": "text", "font": "Liberation Sans", "fontWeight": "bold", "fontSize": 13, "align": "left", "baseline": "middle", "color": "#000"}, "encoding": {"x": {"value": 6}, "y": {"value": 10.5}, "text": {"value": "H"}}}
 ]},
 {"width": 182, "height": 121, "layer": [
  {"data": {"name": "bars"}, "transform": [{"filter": "datum.p==='I'"}], "mark": {"type": "bar", "stroke": "#000", "strokeWidth": 1},
   "encoding": {
    "x": {"field": "w", "type": "ordinal", "sort": ["0","12","36","48","60"], "scale": {"domain": ["0","12","36","48","60"], "paddingInner": 0, "paddingOuter": 0}, "axis": {}},
    "xOffset": {"field": "a", "scale": {"domain": ["M3305","F6524","F6531","F7004","M7040"], "paddingInner": 0, "paddingOuter": 0.5}},
    "y": {"field": "v", "type": "quantitative", "scale": {"domain": [0,6], "nice": false}, "axis": {"labels": false}},
    "fill": {"condition": {"test": "datum.a==='F7004'", "value": {"gradient": "linear", "x1": 0, "y1": 0, "x2": 0, "y2": 1, "stops": [{"offset":0,"color":"#f4f4f4"},{"offset":0.03125,"color":"#f4f4f4"},{"offset":0.03125,"color":"#4a4a4a"},{"offset":0.0625,"color":"#4a4a4a"},{"offset":0.0625,"color":"#f4f4f4"},{"offset":0.09375,"color":"#f4f4f4"},{"offset":0.09375,"color":"#4a4a4a"},{"offset":0.125,"color":"#4a4a4a"},{"offset":0.125,"color":"#f4f4f4"},{"offset":0.15625,"color":"#f4f4f4"},{"offset":0.15625,"color":"#4a4a4a"},{"offset":0.1875,"color":"#4a4a4a"},{"offset":0.1875,"color":"#f4f4f4"},{"offset":0.21875,"color":"#f4f4f4"},{"offset":0.21875,"color":"#4a4a4a"},{"offset":0.25,"color":"#4a4a4a"},{"offset":0.25,"color":"#f4f4f4"},{"offset":0.28125,"color":"#f4f4f4"},{"offset":0.28125,"color":"#4a4a4a"},{"offset":0.3125,"color":"#4a4a4a"},{"offset":0.3125,"color":"#f4f4f4"},{"offset":0.34375,"color":"#f4f4f4"},{"offset":0.34375,"color":"#4a4a4a"},{"offset":0.375,"color":"#4a4a4a"},{"offset":0.375,"color":"#f4f4f4"},{"offset":0.40625,"color":"#f4f4f4"},{"offset":0.40625,"color":"#4a4a4a"},{"offset":0.4375,"color":"#4a4a4a"},{"offset":0.4375,"color":"#f4f4f4"},{"offset":0.46875,"color":"#f4f4f4"},{"offset":0.46875,"color":"#4a4a4a"},{"offset":0.5,"color":"#4a4a4a"},{"offset":0.5,"color":"#f4f4f4"},{"offset":0.53125,"color":"#f4f4f4"},{"offset":0.53125,"color":"#4a4a4a"},{"offset":0.5625,"color":"#4a4a4a"},{"offset":0.5625,"color":"#f4f4f4"},{"offset":0.59375,"color":"#f4f4f4"},{"offset":0.59375,"color":"#4a4a4a"},{"offset":0.625,"color":"#4a4a4a"},{"offset":0.625,"color":"#f4f4f4"},{"offset":0.65625,"color":"#f4f4f4"},{"offset":0.65625,"color":"#4a4a4a"},{"offset":0.6875,"color":"#4a4a4a"},{"offset":0.6875,"color":"#f4f4f4"},{"offset":0.71875,"color":"#f4f4f4"},{"offset":0.71875,"color":"#4a4a4a"},{"offset":0.75,"color":"#4a4a4a"},{"offset":0.75,"color":"#f4f4f4"},{"offset":0.78125,"color":"#f4f4f4"},{"offset":0.78125,"color":"#4a4a4a"},{"offset":0.8125,"color":"#4a4a4a"},{"offset":0.8125,"color":"#f4f4f4"},{"offset":0.84375,"color":"#f4f4f4"},{"offset":0.84375,"color":"#4a4a4a"},{"offset":0.875,"color":"#4a4a4a"},{"offset":0.875,"color":"#f4f4f4"},{"offset":0.90625,"color":"#f4f4f4"},{"offset":0.90625,"color":"#4a4a4a"},{"offset":0.9375,"color":"#4a4a4a"},{"offset":0.9375,"color":"#f4f4f4"},{"offset":0.96875,"color":"#f4f4f4"},{"offset":0.96875,"color":"#4a4a4a"},{"offset":1,"color":"#4a4a4a"}]}},
      "field": "a", "type": "nominal", "scale": {"domain": ["M3305","F6524","F6531","F7004","M7040"]}, "legend": {"title": null}}}},
  {"data": {"name": "one"}, "mark": {"type": "rect", "fill": "#d6d6d6", "stroke": "#000", "strokeWidth": 1}, "encoding": {"x": {"value": 25}, "x2": {"value": 69}, "y": {"value": 4}, "y2": {"value": 17}}},
  {"data": {"name": "one"}, "mark": {"type": "text", "font": "Liberation Sans", "fontWeight": "bold", "fontSize": 8, "align": "center", "baseline": "middle", "color": "#000"}, "encoding": {"x": {"value": 47}, "y": {"value": 10.5}, "text": {"value": "TDF + FTC"}}},
  {"data": {"name": "one"}, "mark": {"type": "text", "font": "Liberation Sans", "fontWeight": "bold", "fontSize": 13, "align": "left", "baseline": "middle", "color": "#000"}, "encoding": {"x": {"value": 6}, "y": {"value": 10.5}, "text": {"value": "I"}}}
 ]}
]}
]
}
